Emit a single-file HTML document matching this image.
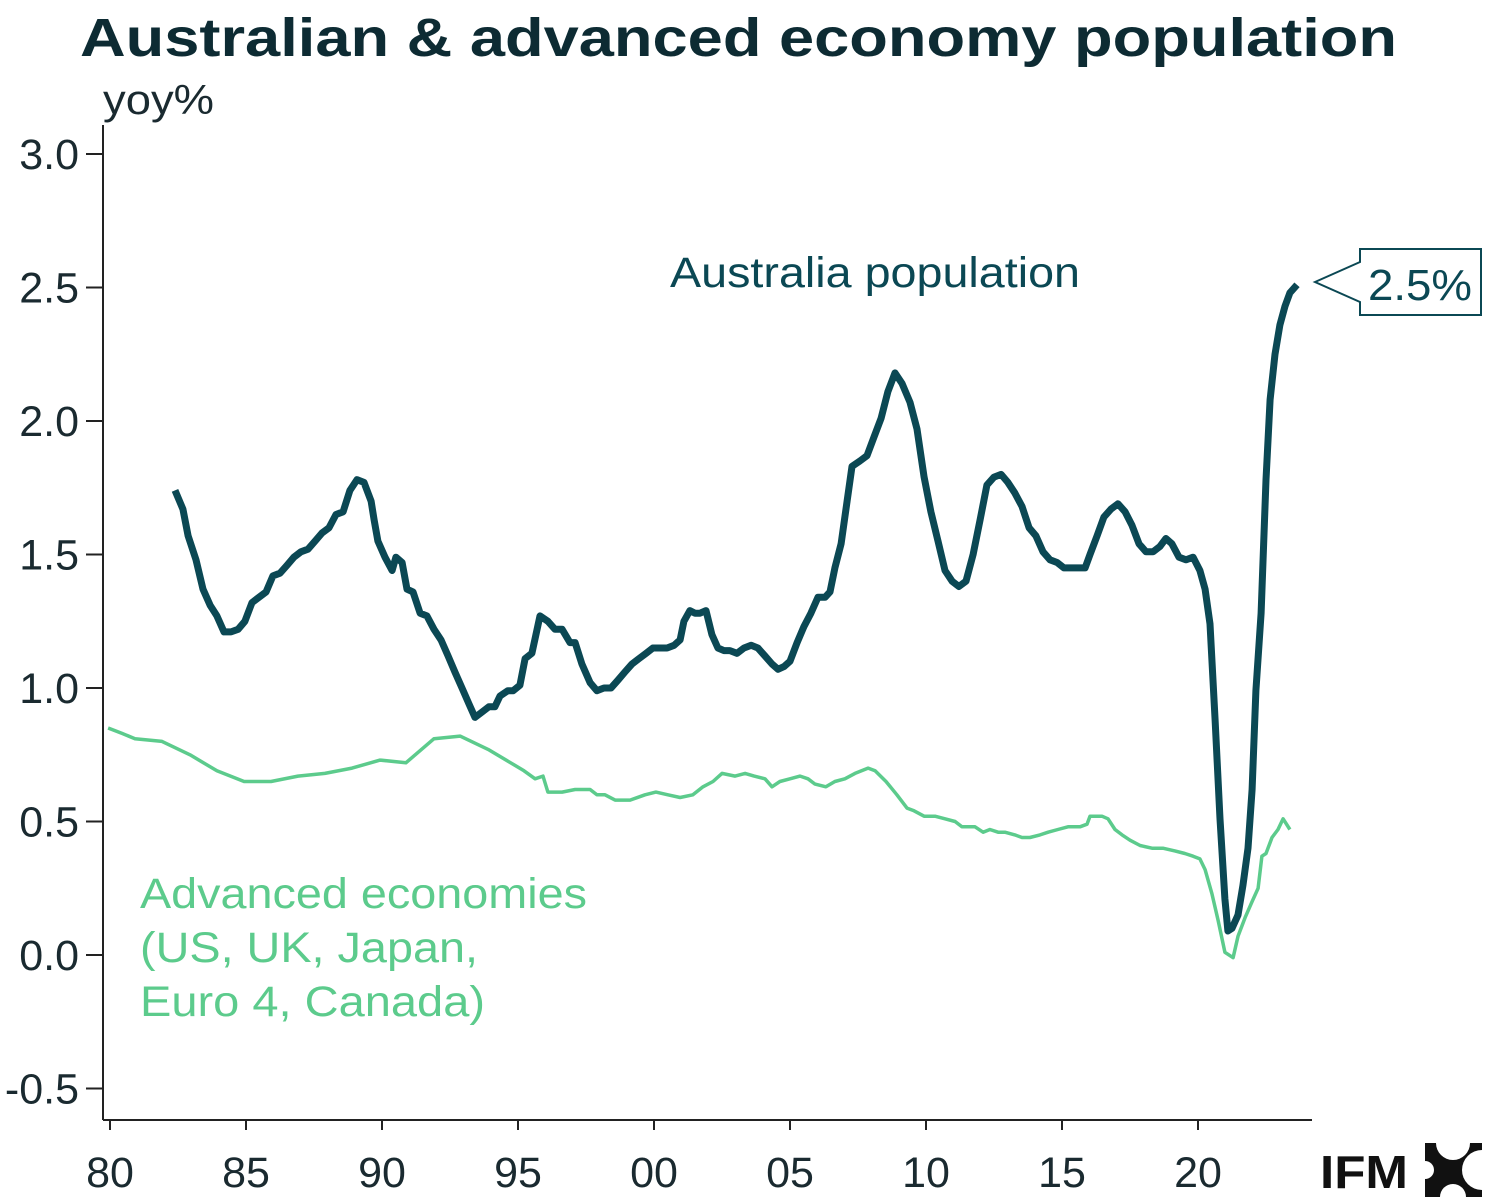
<!DOCTYPE html>
<html><head><meta charset="utf-8"><style>
html,body{margin:0;padding:0;background:#fff;}
svg{display:block;font-family:"Liberation Sans",Arial,sans-serif;}
</style></head><body>
<svg id="chart" width="1485" height="1203" viewBox="0 0 1485 1203">
<text x="80" y="56" font-size="54" font-weight="bold" fill="#0d2b33" textLength="1317" lengthAdjust="spacingAndGlyphs">Australian &amp; advanced economy population</text>
<text x="103" y="114" font-size="42" fill="#1a2a30" textLength="111" lengthAdjust="spacingAndGlyphs">yoy%</text>
<g id="axes"></g>
<g id="series"></g>
<text x="670" y="287" font-size="43" fill="#0b4854" textLength="410" lengthAdjust="spacingAndGlyphs">Australia population</text>
<g font-size="43" fill="#5ccb8c">
<text x="140" y="908" textLength="447" lengthAdjust="spacingAndGlyphs">Advanced economies</text>
<text x="140" y="962" textLength="338" lengthAdjust="spacingAndGlyphs">(US, UK, Japan,</text>
<text x="140" y="1016" textLength="345" lengthAdjust="spacingAndGlyphs">Euro 4, Canada)</text>
</g>
<g>
<polygon points="1315,282 1360,262 1360,249 1481,249 1481,315 1360,315 1360,302" fill="#fff" stroke="#0b4854" stroke-width="2"/>
<text x="1368" y="300" font-size="44" fill="#0b4854" textLength="104" lengthAdjust="spacingAndGlyphs">2.5%</text>
</g>
<g>
<text x="1320" y="1188" font-size="46" font-weight="bold" fill="#111" textLength="88" lengthAdjust="spacingAndGlyphs">IFM</text>
<rect x="1425" y="1143" width="57" height="54" fill="#111"/>
<circle cx="1482" cy="1170" r="20" fill="#fff"/>
<circle cx="1453" cy="1143" r="17" fill="#fff"/>
<circle cx="1425" cy="1170" r="9" fill="#fff"/>
<circle cx="1453" cy="1197" r="13" fill="#fff"/>
</g>
</svg>
<script>
const yTicks = [3.0, 2.5, 2.0, 1.5, 1.0, 0.5, 0.0, -0.5];
const yTickLabels = ["3.0","2.5","2.0","1.5","1.0","0.5","0.0","-0.5"];
const xTicks = [1980,1985,1990,1995,2000,2005,2010,2015,2020];
const xTickLabels = ["80","85","90","95","00","05","10","15","20"];
const ausYears = [1982.39,1982.68,1982.87,1983.16,1983.42,1983.68,1983.93,1984.19,1984.45,1984.71,1984.96,1985.22,1985.48,1985.74,1985.99,1986.25,1986.51,1986.76,1987.02,1987.28,1987.54,1987.79,1988.05,1988.31,1988.57,1988.82,1989.08,1989.34,1989.60,1989.71,1989.85,1990.11,1990.37,1990.51,1990.74,1990.92,1991.14,1991.40,1991.65,1991.91,1992.17,1992.43,1992.68,1992.94,1993.20,1993.42,1993.68,1993.93,1994.15,1994.34,1994.63,1994.82,1995.07,1995.26,1995.51,1995.81,1996.10,1996.36,1996.62,1996.91,1997.10,1997.35,1997.65,1997.90,1998.16,1998.42,1998.68,1998.93,1999.19,1999.45,1999.71,1999.96,2000.22,2000.48,2000.74,2000.96,2001.10,2001.32,2001.51,2001.69,2001.91,2002.13,2002.35,2002.57,2002.79,2003.05,2003.31,2003.57,2003.82,2004.08,2004.34,2004.56,2004.78,2005.00,2005.26,2005.51,2005.77,2006.03,2006.29,2006.47,2006.65,2006.88,2007.10,2007.28,2007.57,2007.83,2008.09,2008.35,2008.60,2008.86,2009.12,2009.41,2009.67,2009.93,2010.18,2010.44,2010.70,2010.96,2011.21,2011.47,2011.73,2011.99,2012.24,2012.50,2012.76,2013.01,2013.27,2013.53,2013.79,2014.04,2014.30,2014.56,2014.82,2015.07,2015.33,2015.59,2015.85,2016.03,2016.29,2016.54,2016.80,2017.06,2017.32,2017.57,2017.83,2018.09,2018.35,2018.60,2018.82,2019.04,2019.30,2019.56,2019.82,2020.07,2020.26,2020.44,2020.63,2020.81,2020.99,2021.10,2021.25,2021.47,2021.65,2021.84,2021.99,2022.13,2022.32,2022.50,2022.65,2022.83,2023.01,2023.20,2023.38,2023.64];
const ausValues = [1.74,1.67,1.57,1.48,1.37,1.31,1.27,1.21,1.21,1.22,1.25,1.32,1.34,1.36,1.42,1.43,1.46,1.49,1.51,1.52,1.55,1.58,1.60,1.65,1.66,1.74,1.78,1.77,1.70,1.63,1.55,1.49,1.44,1.49,1.47,1.37,1.36,1.28,1.27,1.22,1.18,1.12,1.06,1.00,0.94,0.89,0.91,0.93,0.93,0.97,0.99,0.99,1.01,1.11,1.13,1.27,1.25,1.22,1.22,1.17,1.17,1.09,1.02,0.99,1.00,1.00,1.03,1.06,1.09,1.11,1.13,1.15,1.15,1.15,1.16,1.18,1.25,1.29,1.28,1.28,1.29,1.20,1.15,1.14,1.14,1.13,1.15,1.16,1.15,1.12,1.09,1.07,1.08,1.10,1.17,1.23,1.28,1.34,1.34,1.36,1.45,1.54,1.70,1.83,1.85,1.87,1.94,2.01,2.11,2.18,2.14,2.07,1.97,1.79,1.66,1.55,1.44,1.40,1.38,1.40,1.50,1.63,1.76,1.79,1.80,1.77,1.73,1.68,1.60,1.57,1.51,1.48,1.47,1.45,1.45,1.45,1.45,1.50,1.57,1.64,1.67,1.69,1.66,1.61,1.54,1.51,1.51,1.53,1.56,1.54,1.49,1.48,1.49,1.44,1.37,1.24,0.88,0.51,0.21,0.09,0.10,0.15,0.26,0.40,0.62,0.99,1.28,1.78,2.08,2.25,2.36,2.43,2.48,2.51];
const advYears = [1979.93,1980.44,1980.92,1981.91,1982.94,1983.93,1984.93,1985.92,1986.91,1987.90,1988.90,1989.93,1990.88,1991.91,1992.87,1993.90,1994.89,1995.22,1995.63,1995.92,1996.10,1996.62,1997.10,1997.65,1997.90,1998.20,1998.57,1999.12,1999.67,2000.07,2000.51,2000.96,2001.43,2001.80,2002.17,2002.50,2002.98,2003.35,2003.68,2004.08,2004.34,2004.63,2005.00,2005.37,2005.66,2005.92,2006.32,2006.65,2007.02,2007.39,2007.87,2008.13,2008.53,2008.93,2009.30,2009.56,2009.93,2010.33,2010.70,2011.07,2011.32,2011.80,2012.10,2012.35,2012.65,2012.90,2013.27,2013.53,2013.82,2014.19,2014.49,2014.85,2015.22,2015.37,2015.66,2015.92,2016.03,2016.25,2016.47,2016.69,2016.95,2017.21,2017.50,2017.87,2018.31,2018.71,2019.15,2019.52,2019.82,2020.07,2020.26,2020.51,2020.74,2020.99,2021.29,2021.47,2021.73,2021.99,2022.21,2022.35,2022.50,2022.72,2022.94,2023.13,2023.38];
const advValues = [0.85,0.83,0.81,0.80,0.75,0.69,0.65,0.65,0.67,0.68,0.70,0.73,0.72,0.81,0.82,0.77,0.71,0.69,0.66,0.67,0.61,0.61,0.62,0.62,0.60,0.60,0.58,0.58,0.60,0.61,0.60,0.59,0.60,0.63,0.65,0.68,0.67,0.68,0.67,0.66,0.63,0.65,0.66,0.67,0.66,0.64,0.63,0.65,0.66,0.68,0.70,0.69,0.65,0.60,0.55,0.54,0.52,0.52,0.51,0.50,0.48,0.48,0.46,0.47,0.46,0.46,0.45,0.44,0.44,0.45,0.46,0.47,0.48,0.48,0.48,0.49,0.52,0.52,0.52,0.51,0.47,0.45,0.43,0.41,0.40,0.40,0.39,0.38,0.37,0.36,0.32,0.23,0.13,0.01,-0.01,0.07,0.14,0.20,0.25,0.37,0.38,0.44,0.47,0.51,0.47];

const NS = "http://www.w3.org/2000/svg";
function xScale(yr){ return 110 + (yr - 1980) * 27.2; }
function yScale(v){ return 955 - v * 267; }
function mk(tag, attrs, parent){ const e = document.createElementNS(NS, tag); for (const k in attrs) e.setAttribute(k, attrs[k]); parent.appendChild(e); return e; }

const axes = document.getElementById('axes');
const ya = mk('line', {x1:103,y1:125,x2:103,y2:1120,stroke:'#222','stroke-width':2}, axes);


const xa = mk('line', {x1:103,y1:1120,x2:1312,y2:1120,stroke:'#222','stroke-width':2}, axes);


yTicks.forEach((v, i) => {
  const y = yScale(v);
  const t = mk('line', {x1:86,y1:y,x2:103,y2:y,stroke:'#222','stroke-width':2}, axes);
  
  
  const l = mk('text', {x:79,y:y+15,'font-size':43,fill:'#1a2a30','text-anchor':'end'}, axes);
  l.textContent = yTickLabels[i];
  
  
});
xTicks.forEach((yr, i) => {
  const x = xScale(yr);
  const t = mk('line', {x1:x,y1:1120,x2:x,y2:1130,stroke:'#222','stroke-width':2}, axes);
  
  
  const l = mk('text', {x:x,y:1187,'font-size':43,fill:'#1a2a30','text-anchor':'middle'}, axes);
  l.textContent = xTickLabels[i];
  
  
});

const series = document.getElementById('series');
function pathFor(xs, vs){ return xs.map((x, i) => (i ? 'L' : 'M') + xScale(x).toFixed(1) + ',' + yScale(vs[i]).toFixed(1)).join(' '); }
const adv = mk('path', {d:pathFor(advYears, advValues),fill:'none',stroke:'#5ccb8c','stroke-width':3.5,'stroke-linejoin':'round'}, series);


const aus = mk('path', {d:pathFor(ausYears, ausValues),fill:'none',stroke:'#0b4854','stroke-width':7,'stroke-linejoin':'round'}, series);


</script>
</body></html>
